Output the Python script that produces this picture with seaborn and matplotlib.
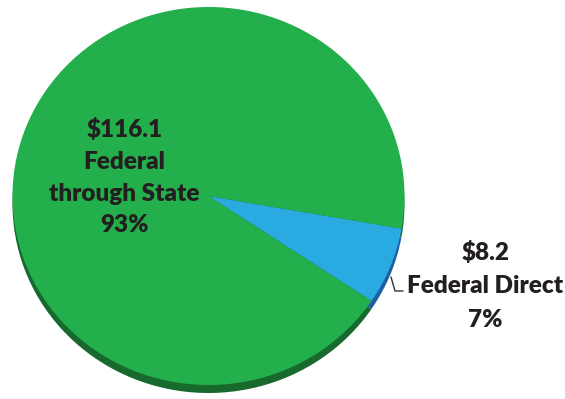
import matplotlib
matplotlib.use("Agg")
import matplotlib.pyplot as plt
import seaborn as sns

# Federal funds, $ billions
categories = ["Federal Direct", "Federal through State"]
amounts = [8.2, 116.1]
shares = ["7%", "93%"]

sns.set_theme(style="white")
plt.rcParams["font.family"] = ["Lato", "DejaVu Sans"]

face_colors = ["#29AAE1", "#23B04C"]
side_colors = ["#1D5EA4", "#17692E"]
text_color = "#231F20"

W, H = 565, 399
fig = plt.figure(figsize=(W / 100, H / 100), dpi=100)
fig.patch.set_facecolor("white")

# slightly flattened pie with a thin darker rim underneath
cx, cy, rx, ry = 208.5, 196, 196, 189
depth = 8
ax = fig.add_axes([(cx - rx) / W, (H - cy - ry) / H, 2 * rx / W, 2 * ry / H])
start = -33.7
ax.pie(amounts, colors=side_colors, startangle=start, radius=1,
       center=(0, -depth / ry), wedgeprops=dict(linewidth=0))
ax.pie(amounts, colors=face_colors, startangle=start, radius=1,
       wedgeprops=dict(linewidth=0))
ax.set_aspect("auto")
ax.set_xlim(-1, 1)
ax.set_ylim(-1, 1)
ax.axis("off")
for p in ax.patches:
    p.set_clip_on(False)

# overlay in pixel units for labels
ov = fig.add_axes([0, 0, 1, 1])
ov.set_xlim(0, W)
ov.set_ylim(H, 0)
ov.axis("off")
ov.patch.set_alpha(0)

fs = 17.5
big_lines = [f"${amounts[1]:.1f}", "Federal", "through State", shares[1]]
for txt, yb in zip(big_lines, [137, 169, 201, 232]):
    ov.text(124.5, yb, txt, ha="center", va="baseline", fontsize=fs,
            fontweight="heavy", color=text_color)

small_lines = [f"${amounts[0]:.1f}", categories[0], shares[0]]
for txt, yb in zip(small_lines, [260, 293, 327]):
    ov.text(485.5, yb, txt, ha="center", va="baseline", fontsize=fs,
            fontweight="heavy", color=text_color)

ov.plot([391, 395, 403], [277, 291, 291], color="#333333", lw=1.0,
        solid_joinstyle="miter")

fig.savefig("out.png", dpi=100)
